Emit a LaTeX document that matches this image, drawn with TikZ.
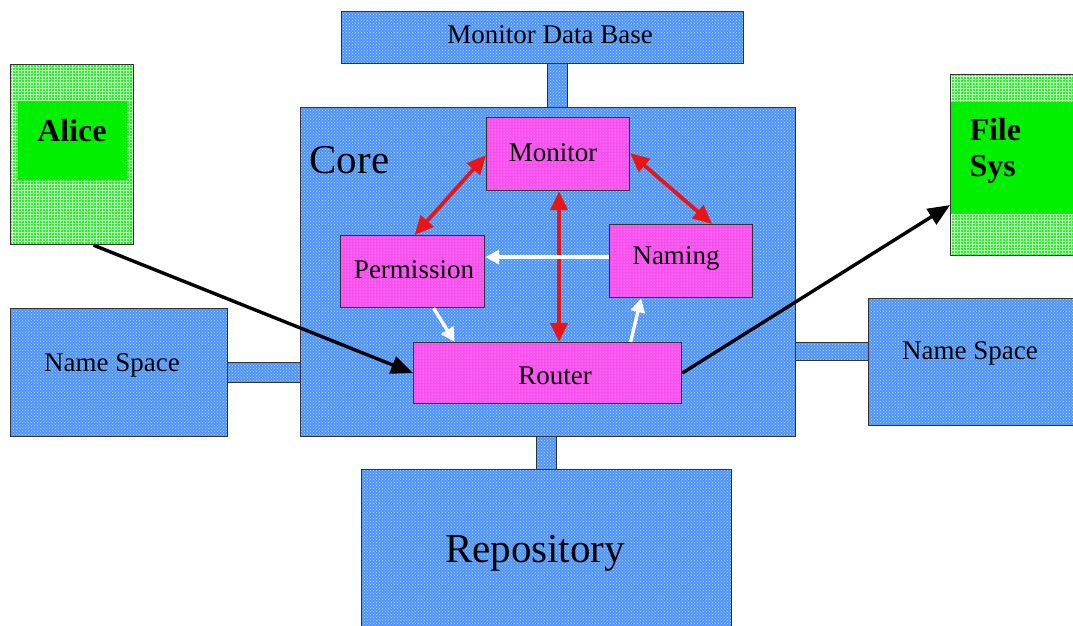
\documentclass[tikz,border=0pt]{standalone}
\usepackage{fontspec}
\setmainfont{Liberation Serif}
\usetikzlibrary{arrows.meta,patterns}

\definecolor{netblue}{RGB}{85,145,250}
\definecolor{netdots}{RGB}{150,230,255}
\definecolor{modpink}{RGB}{248,80,238}
\definecolor{moddots}{RGB}{255,190,250}
\definecolor{userlight}{RGB}{40,245,40}
\definecolor{userbright}{RGB}{0,240,0}
\definecolor{linkred}{RGB}{235,20,20}

\tikzset{
  box/.style={draw=black!80, line width=1.2pt, inner sep=0pt, anchor=north west},
  netbox/.style={box, preaction={fill=netblue}, pattern=crosshatch dots, pattern color=netdots},
  modbox/.style={box, preaction={fill=modpink}, pattern=dots, pattern color=moddots},
  userbox/.style={box, preaction={fill=userlight}, pattern=grid, pattern color=white!70!userlight},
  userface/.style={inner sep=0pt, anchor=north west, fill=userbright},
  lbl/.style={font=\fontsize{27}{31}\selectfont},
  biglbl/.style={font=\fontsize{41}{47}\selectfont},
  boldlbl/.style={font=\fontsize{32}{36}\selectfont\bfseries, align=left},
  blackarrow/.style={line width=3.4pt, -{Triangle[length=22pt,width=18pt]}},
  redarrow/.style={draw=linkred, line width=3.8pt, {Triangle[length=19pt,width=17pt]}-{Triangle[length=19pt,width=17pt]}},
  whitearrow/.style={draw=white, line width=3.4pt, -{Triangle[length=14pt,width=14pt]}},
}

\begin{document}
\begin{tikzpicture}[x=1pt,y=-1pt]
\useasboundingbox (0,0) rectangle (1073,625);

% links between the core and its services
\node[netbox, minimum width=20, minimum height=44] (mdblink) at (547,63) {};
\node[netbox, minimum width=73, minimum height=20] (nsllink) at (227,362) {};
\node[netbox, minimum width=73, minimum height=18] (nsrlink) at (795,342) {};
\node[netbox, minimum width=20, minimum height=33] (repolink) at (536,436) {};

% services
\node[netbox, minimum width=402, minimum height=52] (mdb) at (341,11) {};
\node[lbl] (mdbtext) at (550,35) {Monitor Data Base};
\node[netbox, minimum width=217, minimum height=128] (nsl) at (10,308) {};
\node[lbl] (nsltext) at (112,365) {Name Space};
\node[netbox, minimum width=210, minimum height=127] (nsr) at (868,298) {};
\node[lbl] (nsrtext) at (970,353) {Name Space};
\node[netbox, minimum width=370, minimum height=160] (repo) at (361,469) {};
\node[biglbl] (repotext) at (535,553) {Repository};

% core and its modules
\node[netbox, minimum width=495, minimum height=329] (core) at (300,107) {};
\node[biglbl, anchor=west] (coretext) at (306,160) {Core};
\node[modbox, minimum width=143, minimum height=73] (monitor) at (486,117) {};
\node[lbl] at (553,153) {Monitor};
\node[modbox, minimum width=144, minimum height=72] (permission) at (340,235) {};
\node[lbl] at (414,270) {Permission};
\node[modbox, minimum width=143, minimum height=73] (naming) at (609,224) {};
\node[lbl] at (676,258) {Naming};
\node[modbox, minimum width=268, minimum height=61] (router) at (413,342) {};
\node[lbl] at (555,376) {Router};

% users and file system
\node[userbox, minimum width=123, minimum height=180] (alice) at (10,64) {};
\node[userface, minimum width=109, minimum height=79] (aliceface) at (18,101) {};
\node[boldlbl] (alicetext) at (72,131) {Alice};
\node[userbox, minimum width=130, minimum height=181] (files) at (950,74) {};
\node[userface, minimum width=130, minimum height=112] (filesface) at (950.6,102) {};
\node[boldlbl, anchor=west, text width=90] (filestext) at (966,151) {File\\Sys};

% request path
\draw[blackarrow] ([xshift=21.5]alice.south) -- (router.west);
\draw[blackarrow] (router.east) -- ([yshift=-40]files.west);

% monitor links
\draw[redarrow] ([yshift=-1]monitor.west) -- ([xshift=2]permission.north);
\draw[redarrow] ([yshift=1]monitor.east) -- ([xshift=31]naming.north);
\draw[redarrow] ([xshift=1]monitor.south) -- ([xshift=1]monitor.south |- router.north);

% internal flow
\draw[whitearrow] ([yshift=4]naming.west) -- ([yshift=4]naming.west -| permission.east);
\draw[whitearrow] ([xshift=21]permission.south) -- ([xshift=-93]router.north);
\draw[whitearrow] ([xshift=83]router.north) -- ([xshift=-40]naming.south);
\end{tikzpicture}
\end{document}
